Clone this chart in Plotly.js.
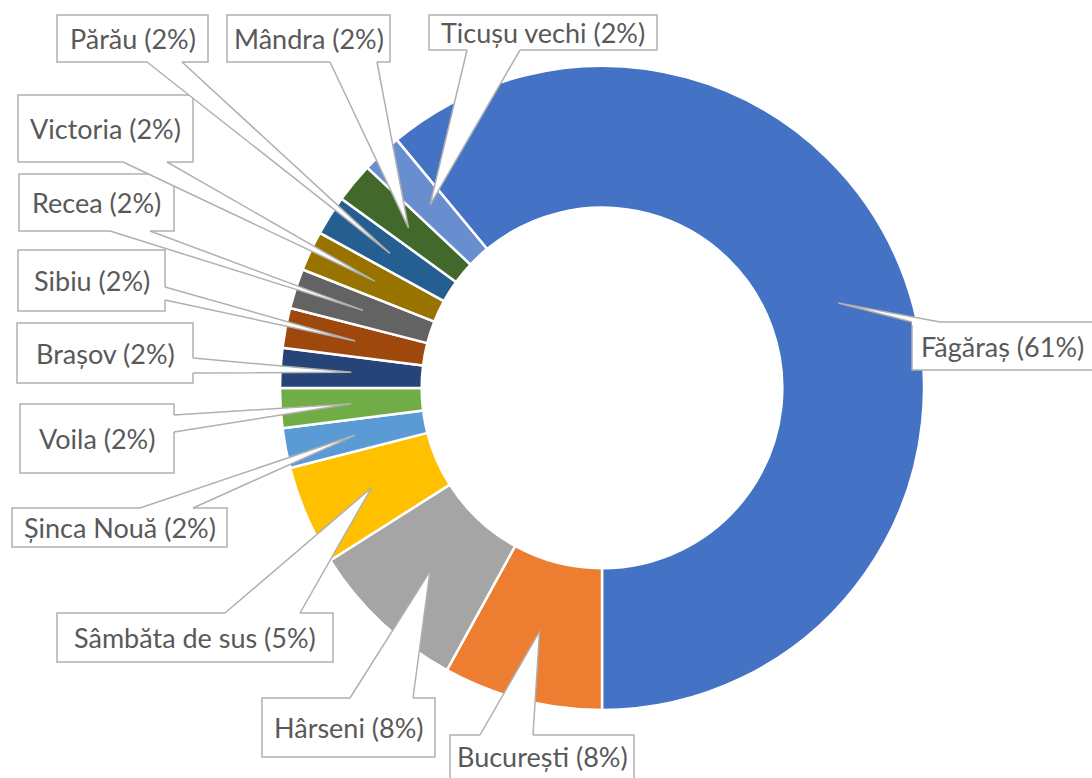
<!DOCTYPE html>
<html><head><meta charset="utf-8">
<script src="https://cdn.plot.ly/plotly-3.0.1.min.js"></script>
<style>html,body{margin:0;padding:0;background:#fff}</style>
</head><body><div id="chart" style="width:1092px;height:778px"></div>
<script>
// ---- data ----
const categories = ["Făgăraș","București","Hârseni","Sâmbăta de sus","Șinca Nouă","Voila","Brașov","Sibiu","Recea","Victoria","Părău","Mândra","Ticușu vechi"];
const values = [61,8,8,5,2,2,2,2,2,2,2,2,2];
const colors = ["#4472C4","#ED7D31","#A5A5A5","#FFC000","#5B9BD5","#70AD47","#264478","#9E480E","#636363","#997300","#255E91","#43682B","#698ED0"];

// ---- layout geometry (pixels) ----
const W = 1092, H = 778;
const CX = 602, CY = 388, R = 322, HOLE = 0.56;
const ROTATION = -39.6;
// callout boxes [x0,y0,x1,y1]
const labelBoxes = [
  [912,322,1100,370],[450,735,634,790],[262,698,435,757],[57,613,333,662],
  [12,508,227,547],[20,404,174,473],[17,323,193,383],[18,250,165,311],
  [19,174,174,231],[18,95,193,162],[57,15,208,62],[227,15,390,62],[429,15,657,50]
];
// wedge base points on box edges
const wedgeBases = [
  [[912,322],[940,322]],[[480,735],[533,735]],[[350,698],[413,698]],[[225,613],[300,613]],
  [[140,508],[193,508]],[[174,415],[174,432]],[[193,358],[193,373]],[[165,287],[165,300]],
  [[110,231],[150,231]],[[123,162],[167,162]],[[147,62],[182,62]],[[330,62],[377,62]],[[467,50],[520,50]]
];
const lineColor = "#B0B0B0";
const textColor = "#595959";
const fontFamily = "Lato, 'Open Sans', sans-serif";
const fontSize = 27;

const px = x => x / W;
const py = y => 1 - y / H;

const total = values.reduce((a,b)=>a+b,0);
const shapes = [];
const annotations = [];
let cum = 0;
values.forEach((v, i) => {
  const a0 = ROTATION + cum / total * 360;
  const mid = (a0 + v / total * 180) * Math.PI / 180;
  cum += v;
  const rMid = (R * HOLE + R) / 2;
  const tx = CX + rMid * Math.sin(mid);
  const ty = CY - rMid * Math.cos(mid);
  const [x0,y0,x1,y1] = labelBoxes[i];
  // box
  shapes.push({type:'rect', xref:'paper', yref:'paper', layer:'above',
    x0:px(x0), x1:px(x1), y0:py(y1), y1:py(y0),
    fillcolor:'#FFFFFF', line:{color:lineColor, width:1.5}});
  // wedge fill (extends a bit into the box to hide its border at the base)
  const inset = p => {
    let [x,y] = p, dx = 0, dy = 0;
    if (Math.abs(y - y1) < 1) dy = -3; else if (Math.abs(y - y0) < 1) dy = 3;
    else if (Math.abs(x - x1) < 1) dx = -3; else if (Math.abs(x - x0) < 1) dx = 3;
    return [x + dx, y + dy];
  };
  const [b1, b2] = wedgeBases[i];
  const c1 = inset(b1), c2 = inset(b2);
  const P = p => px(p[0]) + ',' + py(p[1]);
  const T = [tx, ty];
  shapes.push({type:'path', xref:'paper', yref:'paper', layer:'above',
    path:'M' + P(T) + ' L' + P(b1) + ' L' + P(c1) + ' L' + P(c2) + ' L' + P(b2) + ' Z',
    fillcolor:'#FFFFFF', line:{width:0}});
  shapes.push({type:'path', xref:'paper', yref:'paper', layer:'above',
    path:'M' + P(b1) + ' L' + P(T) + ' L' + P(b2),
    fillcolor:'rgba(0,0,0,0)', line:{color:lineColor, width:1.5}});
  annotations.push({xref:'paper', yref:'paper', x:px((x0+Math.min(x1,W))/2), y:py((y0+Math.min(y1,H))/2),
    xanchor:'center', yanchor:'middle', showarrow:false,
    text: categories[i] + ' (' + Math.round(v / total * 100) + '%)',
    font:{family:fontFamily, size:fontSize, color:textColor}});
});

const trace = {
  type:'pie', labels:categories, values:values, sort:false, direction:'clockwise',
  rotation:ROTATION, hole:HOLE, textinfo:'none', hoverinfo:'label+percent',
  marker:{colors:colors, line:{color:'#FFFFFF', width:2.5}},
  domain:{x:[px(CX-R), px(CX+R)], y:[py(CY+R), py(CY-R)]},
  showlegend:false
};

Plotly.newPlot('chart', [trace], {
  width:W, height:H, autosize:false,
  margin:{l:0,r:0,t:0,b:0},
  paper_bgcolor:'#FFFFFF', plot_bgcolor:'#FFFFFF',
  showlegend:false, shapes:shapes, annotations:annotations
}, {displayModeBar:false, staticPlot:true});
</script></body></html>
